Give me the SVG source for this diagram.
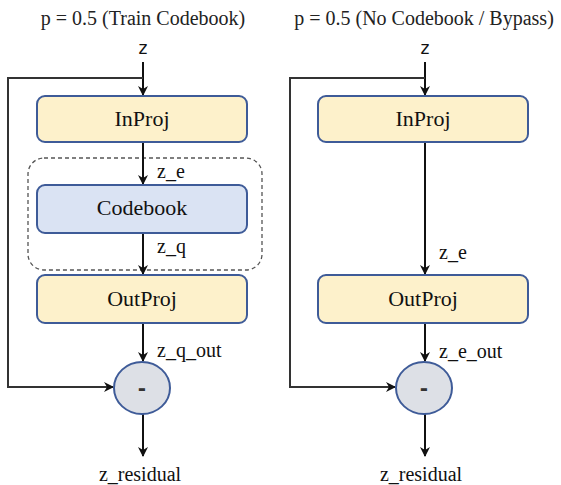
<svg xmlns="http://www.w3.org/2000/svg" width="561" height="485" viewBox="0 0 561 485">
<defs>
<marker id="ah" viewBox="0 0 10 10" refX="9" refY="5" markerWidth="5" markerHeight="5" orient="auto" markerUnits="strokeWidth">
<path d="M0,0 L10,5 L0,10 L3,5 z" fill="#111"/>
</marker>
<style>
.title{font-family:"Liberation Serif",serif;font-size:20px;fill:#222;text-anchor:middle}
.box{stroke:#3e5b98;stroke-width:2}
.proj{fill:#fdf1cb}
.cb{fill:#dae3f3}
.nt{font-family:"Liberation Serif",serif;font-size:22px;fill:#111;text-anchor:middle}
.lbl{font-family:"Liberation Serif",serif;font-size:20px;fill:#111}
.z{font-family:"DejaVu Sans",sans-serif;font-size:17px;fill:#111;text-anchor:middle}
.ln{stroke:#111;stroke-width:2;fill:none}
.by{stroke:#333;stroke-width:2;fill:none}
.sub{fill:#dde0e6;stroke:#3e5b98;stroke-width:2}
.minus{font-family:"DejaVu Sans",sans-serif;font-size:20px;font-weight:bold;fill:#333;text-anchor:middle}
</style>
</defs>
<rect width="561" height="485" fill="#ffffff"/>
<text class="title" x="143" y="25">p = 0.5 (Train Codebook)</text>
<text class="title" x="424" y="25">p = 0.5 (No Codebook / Bypass)</text>
<text class="z" x="143" y="54">z</text>
<text class="z" x="425" y="54">z</text>
<rect x="28" y="158" width="234" height="112" rx="16" fill="none" stroke="#555" stroke-width="1.3" stroke-dasharray="4,3"/>
<g id="connectors">
<path class="ln" d="M143,62 V95" marker-end="url(#ah)"/>
<path class="by" d="M143,78 H8 V387 H113" marker-end="url(#ah)"/>
<path class="ln" d="M143,142 V184" marker-end="url(#ah)"/>
<path class="ln" d="M143,233 V274" marker-end="url(#ah)"/>
<path class="ln" d="M143,323 V361" marker-end="url(#ah)"/>
<path class="ln" d="M143,414 V456" marker-end="url(#ah)"/>
<path class="ln" d="M425,62 V95" marker-end="url(#ah)"/>
<path class="by" d="M425,78 H290 V387 H395" marker-end="url(#ah)"/>
<path class="ln" d="M425,142 V274" marker-end="url(#ah)"/>
<path class="ln" d="M425,323 V361" marker-end="url(#ah)"/>
<path class="ln" d="M425,414 V456" marker-end="url(#ah)"/>
</g>
<text class="lbl" x="157" y="178">z_e</text>
<text class="lbl" x="157" y="253">z_q</text>
<text class="lbl" x="157" y="357">z_q_out</text>
<text class="lbl" x="439" y="259">z_e</text>
<text class="lbl" x="439" y="358">z_e_out</text>
<g id="inproj1"><rect class="box proj" x="37" y="96" width="210" height="46" rx="8"/><text class="nt" x="142" y="126">InProj</text></g>
<g id="codebook"><rect class="box cb" x="37" y="185" width="210" height="48" rx="8"/><text class="nt" x="142" y="215">Codebook</text></g>
<g id="outproj1"><rect class="box proj" x="37" y="275" width="210" height="48" rx="8"/><text class="nt" x="142" y="306">OutProj</text></g>
<g id="sub1"><ellipse class="sub" cx="142" cy="388" rx="28" ry="26"/><text class="minus" x="142" y="395">-</text></g>
<text class="lbl" x="140" y="481" text-anchor="middle">z_residual</text>
<g id="inproj2"><rect class="box proj" x="318" y="96" width="210" height="46" rx="8"/><text class="nt" x="423" y="126">InProj</text></g>
<g id="outproj2"><rect class="box proj" x="318" y="275" width="210" height="48" rx="8"/><text class="nt" x="423" y="306">OutProj</text></g>
<g id="sub2"><ellipse class="sub" cx="424" cy="388" rx="28" ry="26"/><text class="minus" x="424" y="395">-</text></g>
<text class="lbl" x="421" y="481" text-anchor="middle">z_residual</text>
</svg>
